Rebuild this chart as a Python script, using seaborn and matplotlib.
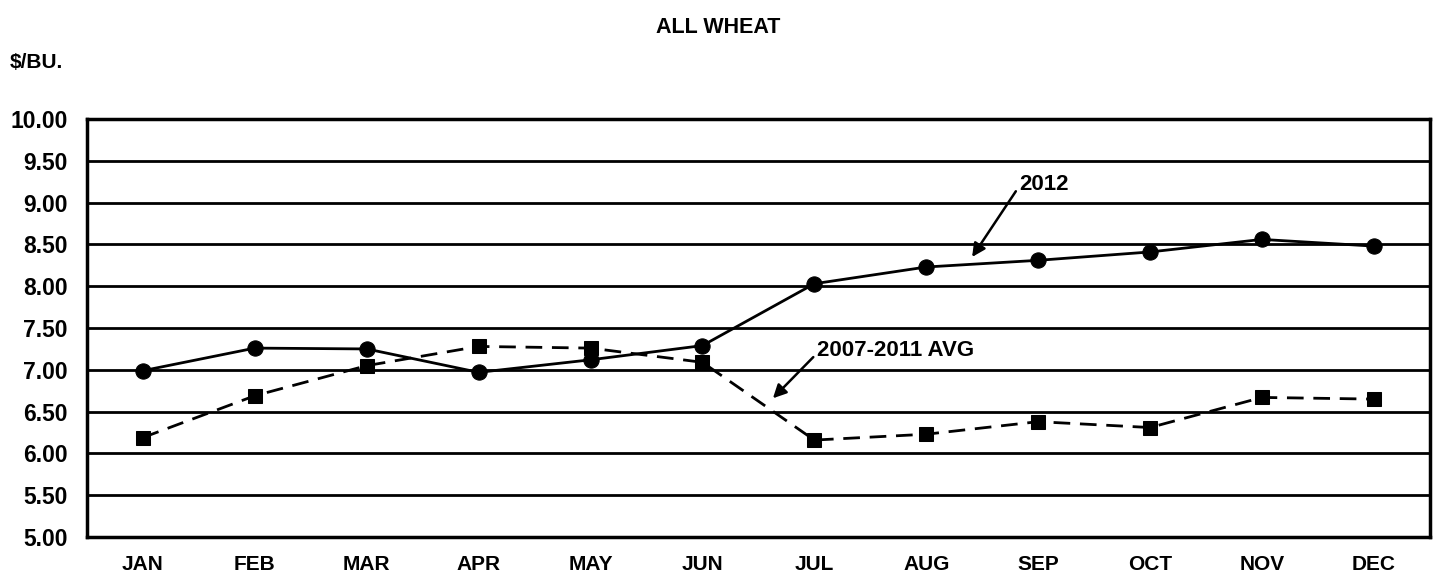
import numpy as np
import pandas as pd
import matplotlib
matplotlib.use("Agg")
import matplotlib.pyplot as plt
import seaborn as sns

months = ["JAN", "FEB", "MAR", "APR", "MAY", "JUN", "JUL", "AUG", "SEP", "OCT", "NOV", "DEC"]
price_2012 = [6.99, 7.26, 7.25, 6.97, 7.12, 7.29, 8.03, 8.23, 8.31, 8.41, 8.56, 8.48]
price_avg = [6.19, 6.69, 7.05, 7.28, 7.26, 7.09, 6.16, 6.23, 6.38, 6.31, 6.67, 6.65]
y_ticks = [5.0, 5.5, 6.0, 6.5, 7.0, 7.5, 8.0, 8.5, 9.0, 9.5, 10.0]

df = pd.DataFrame({"month": months, "2012": price_2012, "2007-2011 AVG": price_avg})

sns.set_style("white")
plt.rcParams["font.family"] = ["Liberation Sans", "DejaVu Sans"]
plt.rcParams["font.weight"] = "bold"
plt.rcParams["text.color"] = "black"
plt.rcParams["xtick.color"] = "black"
plt.rcParams["ytick.color"] = "black"

fig = plt.figure(figsize=(14.37, 5.75), dpi=100)
ax = fig.add_axes([0.0605, 0.066, 0.9345, 0.727])

# horizontal grid
for y in y_ticks:
    ax.axhline(y, color="black", lw=2, zorder=1)

sns.lineplot(data=df, x="month", y="2012", ax=ax, color="black", lw=2,
             marker="o", markersize=11, markeredgecolor="black", zorder=3)
sns.lineplot(data=df, x="month", y="2007-2011 AVG", ax=ax, color="black", lw=2,
             marker="s", markersize=10, markeredgecolor="black", zorder=3,
             linestyle=(0, (6, 3.5)))

ax.set_xlim(-0.5, len(months) - 0.5)
ax.set_ylim(5, 10)
ax.set_yticks(y_ticks)
ax.set_yticklabels([f"{v:.2f}" for v in y_ticks], fontsize=16.5, fontweight="bold")
ax.set_xticks(range(len(months)))
ax.set_xticklabels(months, fontsize=15, fontweight="bold")
ax.set_xticks(np.arange(-0.5, len(months), 1.0), minor=True)
ax.tick_params(axis="x", which="both", direction="in", length=5, width=0.8,
               color="gray", pad=13, labelcolor="black")
ax.tick_params(axis="y", length=0, pad=14, labelcolor="black")
ax.set_xlabel("")
ax.set_ylabel("")
for s in ax.spines.values():
    s.set_color("black")
    s.set_linewidth(2.5)

fig.text(0.5, 0.953, "ALL WHEAT", ha="center", va="center", fontsize=15.5,
         fontweight="bold", color="black")
fig.text(0.007, 0.892, "$/BU.", ha="left", va="center", fontsize=15,
         fontweight="bold", color="black")

ax.annotate("2012", xy=(7.41, 8.35), xytext=(7.83, 9.22), fontsize=16, fontweight="bold",
            ha="left", va="center", color="black",
            arrowprops=dict(arrowstyle="-|>", color="black", lw=1.8, mutation_scale=20,
                            shrinkA=0, shrinkB=0, relpos=(0, 0.4)))
ax.annotate("2007-2011 AVG", xy=(5.63, 6.66), xytext=(6.02, 7.23), fontsize=16,
            fontweight="bold", ha="left", va="center", color="black",
            arrowprops=dict(arrowstyle="-|>", color="black", lw=1.8, mutation_scale=20,
                            shrinkA=0, shrinkB=0, relpos=(0, 0.35)))

fig.savefig("out.png", dpi=100)
